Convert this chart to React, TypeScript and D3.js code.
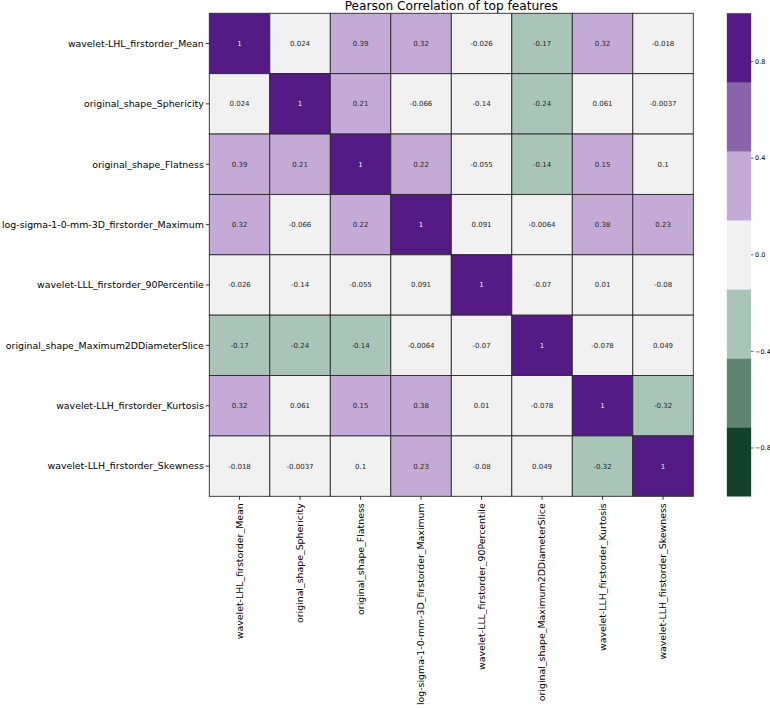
import React from "react";
import * as d3 from "d3";

const features = [
  "wavelet-LHL_firstorder_Mean",
  "original_shape_Sphericity",
  "original_shape_Flatness",
  "log-sigma-1-0-mm-3D_firstorder_Maximum",
  "wavelet-LLL_firstorder_90Percentile",
  "original_shape_Maximum2DDiameterSlice",
  "wavelet-LLH_firstorder_Kurtosis",
  "wavelet-LLH_firstorder_Skewness",
];

const corrRows: number[][] = [
  [1, 0.024, 0.39, 0.32, -0.026, -0.17, 0.32, -0.018],
  [0.024, 1, 0.21, -0.066, -0.138, -0.24, 0.061, -0.0037],
  [0.39, 0.21, 1, 0.22, -0.055, -0.144, 0.15, 0.1],
  [0.32, -0.066, 0.22, 1, 0.091, -0.0064, 0.38, 0.23],
  [-0.026, -0.138, -0.055, 0.091, 1, -0.07, 0.01, -0.08],
  [-0.17, -0.24, -0.144, -0.0064, -0.07, 1, -0.078, 0.049],
  [0.32, 0.061, 0.15, 0.38, 0.01, -0.078, 1, -0.32],
  [-0.018, -0.0037, 0.1, 0.23, -0.08, 0.049, -0.32, 1],
];

const paletteColors = ["#13432c", "#5d8571", "#a9c5b8", "#f1f1f1", "#c4abd7", "#8a63ac", "#541b86"];
const colorbarTicks = [-0.8, -0.4, 0, 0.4, 0.8];
const title = "Pearson Correlation of top features";

const W = 770;
const H = 709;
const grid = { left: 209.3, top: 13.3, right: 693.3, bottom: 496.3 };
const cbar = { left: 727, right: 751 };
const FONT = "DejaVu Sans, sans-serif";

export default function App() {
  const x = d3.scaleBand<string>().domain(features).range([grid.left, grid.right]);
  const y = d3.scaleBand<string>().domain(features).range([grid.top, grid.bottom]);
  const bounds = d3.range(1, 7).map((i) => -1 + (2 * i) / 7);
  const color = d3.scaleThreshold<number, string>().domain(bounds).range(paletteColors);
  const cbY = d3.scaleLinear().domain([-1, 1]).range([grid.bottom, grid.top]);
  const fmt = (v: number) => d3.format(".2~g")(v).replace("\u2212", "-");
  const cbFmt = d3.format(".1f");
  const bandEdges = [-1, ...bounds, 1];

  const cells: any[] = [];
  corrRows.forEach((row, i) => {
    row.forEach((v, j) => {
      cells.push({ r: features[i], c: features[j], v });
    });
  });

  return (
    <svg
      width={W}
      height={H}
      style={{ position: "absolute", left: 0, top: 0, background: "#fff" }}
      fontFamily={FONT}
    >
      <rect x={0} y={0} width={W} height={H} fill="#fff" />
      {cells.map((d, k) => (
        <rect
          key={"c" + k}
          x={x(d.c)}
          y={y(d.r)}
          width={x.bandwidth()}
          height={y.bandwidth()}
          fill={color(d.v)}
          stroke="#2a2a2a"
          strokeWidth={0.9}
        />
      ))}
      {cells.map((d, k) => (
        <text
          key={"t" + k}
          x={(x(d.c) as number) + x.bandwidth() / 2}
          y={(y(d.r) as number) + y.bandwidth() / 2}
          dy="0.35em"
          textAnchor="middle"
          fontSize={7}
          fill={d.v > 0.7 ? "#f0f0f0" : "#262626"}
        >
          {fmt(d.v)}
        </text>
      ))}
      {features.map((f) => (
        <g key={"ry" + f}>
          <line
            x1={grid.left - 3.5}
            x2={grid.left}
            y1={(y(f) as number) + y.bandwidth() / 2}
            y2={(y(f) as number) + y.bandwidth() / 2}
            stroke="#000"
            strokeWidth={0.8}
          />
          <text
            x={grid.left - 5.5}
            y={(y(f) as number) + y.bandwidth() / 2}
            dy="0.35em"
            textAnchor="end"
            fontSize={9.4}
            fill="#000"
          >
            {f}
          </text>
        </g>
      ))}
      {features.map((f) => {
        const cx = (x(f) as number) + x.bandwidth() / 2;
        return (
          <g key={"cx" + f}>
            <line x1={cx} x2={cx} y1={grid.bottom} y2={grid.bottom + 3.5} stroke="#000" strokeWidth={0.8} />
            <text
              transform={`translate(${cx},${grid.bottom + 7}) rotate(-90)`}
              dy="0.35em"
              textAnchor="end"
              fontSize={9.4}
              fill="#000"
            >
              {f}
            </text>
          </g>
        );
      })}
      <text x={(grid.left + grid.right) / 2} y={10} textAnchor="middle" fontSize={12.2} fill="#000">
        {title}
      </text>
      {paletteColors.map((c, i) => (
        <rect
          key={"cb" + i}
          x={cbar.left}
          y={cbY(bandEdges[i + 1])}
          width={cbar.right - cbar.left}
          height={cbY(bandEdges[i]) - cbY(bandEdges[i + 1])}
          fill={c}
          stroke={c}
          strokeWidth={0.3}
        />
      ))}
      {colorbarTicks.map((t) => (
        <g key={"cbt" + t}>
          <line x1={cbar.right} x2={cbar.right + 2.5} y1={cbY(t)} y2={cbY(t)} stroke="#000" strokeWidth={0.6} />
          <text x={cbar.right + 4} y={cbY(t)} dy="0.35em" fontSize={6.5} fill="#000">
            {cbFmt(t)}
          </text>
        </g>
      ))}
    </svg>
  );
}
